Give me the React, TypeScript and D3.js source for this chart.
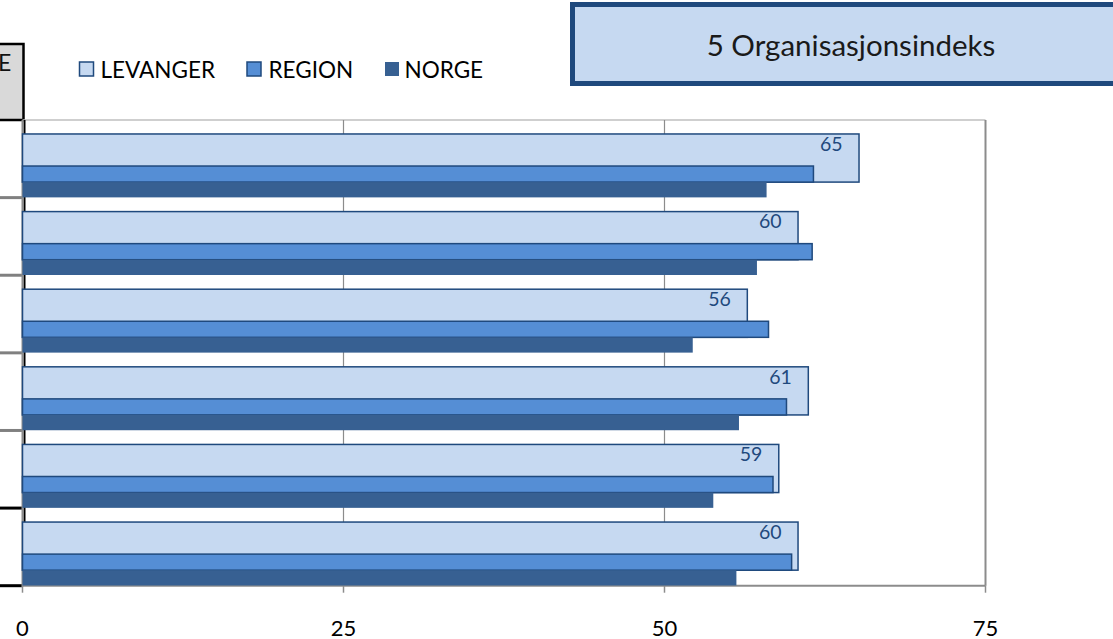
import React from "react";
import * as d3 from "d3";

const categories = ["K1", "K2", "K3", "K4", "K5", "K6"];
const levanger = [65.15, 60.4, 56.45, 61.2, 58.9, 60.4];
const region = [61.6, 61.5, 58.1, 59.5, 58.45, 59.9];
const norge = [57.95, 57.2, 52.2, 55.8, 53.8, 55.6];
const xTicks = [0, 25, 50, 75];
const seriesNames = ["LEVANGER", "REGION", "NORGE"];
const title = "5 Organisasjonsindeks";
const cornerText = "E";

const W = 1113;
const H = 639;
const FONT = "Lato, 'Open Sans', sans-serif";
const fills = ["#c6d9f1", "#558ed5", "#376092"];
const strokes = ["#1f497d", "#1f497d", "none"];
const DARK = "#1f497d";

export default function App() {
  const x = d3.scaleLinear().domain([0, 75]).range([22.5, 985.5]);
  const y = d3.scaleBand<string>().domain(categories).range([120, 585.7]).padding(0);
  const bw = y.bandwidth();
  const fmt = d3.format(".0f");
  const top = 120;
  const bottom = 585.7;
  const legendSq = [79.5, 247, 385];
  const legendTx = [100.5, 268.5, 404.5];
  const boundaries = categories.map((c) => (y(c) as number) + bw);

  return (
    <svg
      width={W}
      height={H}
      style={{ position: "absolute", left: 0, top: 0, background: "#fff" }}
      fontFamily={FONT}
    >
      {/* corner cell */}
      <rect x={-5} y={44} width={28.5} height={76} fill="#d9d9d9" stroke="#000" strokeWidth={2.5} />
      <text x={-2} y={70.5} fontSize={23} fill="#111">{cornerText}</text>

      {/* left table lines */}
      {boundaries.map((b, i) => (
        <line key={i} x1={0} x2={22} y1={b} y2={b} stroke={i >= 4 ? "#000" : "#808080"} strokeWidth={3} />
      ))}

      {/* title box */}
      <rect x={572.5} y={4.5} width={570} height={79} fill="#c6d9f1" stroke={DARK} strokeWidth={5} />
      <text x={851} y={55.5} textAnchor="middle" fontSize={29.5} fill="#1a1a1a">{title}</text>

      {/* legend */}
      {seriesNames.map((s, i) => (
        <g key={s}>
          <rect x={legendSq[i]} y={62} width={14} height={14} fill={fills[i]}
            stroke={strokes[i] === "none" ? "none" : DARK} strokeWidth={1.5} />
          <text x={legendTx[i]} y={77.5} fontSize={22.5} fill="#000">{s}</text>
        </g>
      ))}

      {/* plot frame & grid */}
      <line x1={22.5} x2={985.5} y1={top} y2={top} stroke="#bfbfbf" strokeWidth={1.5} />
      {xTicks.filter((t) => t > 0 && t < 75).map((t) => (
        <line key={t} x1={x(t)} x2={x(t)} y1={top} y2={bottom} stroke="#8c8c8c" strokeWidth={1.2} />
      ))}
      <line x1={x(75)} x2={x(75)} y1={top} y2={bottom} stroke="#8c8c8c" strokeWidth={2} />
      <line x1={24.5} x2={24.5} y1={top} y2={bottom} stroke="#000" strokeWidth={2} />
      <line x1={x(0)} x2={x(0)} y1={top} y2={bottom + 1} stroke="#8c8c8c" strokeWidth={2} />
      <line x1={x(0)} x2={x(75)} y1={bottom} y2={bottom} stroke="#8c8c8c" strokeWidth={2} />
      {xTicks.map((t) => (
        <g key={t}>
          <line x1={x(t)} x2={x(t)} y1={bottom} y2={bottom + 7} stroke="#8c8c8c" strokeWidth={1.5} />
          <text x={x(t)} y={635.5} textAnchor="middle" fontSize={22} fill="#000">{t}</text>
        </g>
      ))}

      {/* bars */}
      {categories.map((c, i) => {
        const y0 = y(c) as number;
        return (
          <g key={c}>
            <rect x={x(0)} y={y0 + bw * 0.18} width={x(levanger[i]) - x(0)} height={bw * 0.62}
              fill={fills[0]} stroke={DARK} strokeWidth={1.5} />
            <rect x={x(0)} y={y0 + bw * 0.593} width={x(region[i]) - x(0)} height={bw * 0.207}
              fill={fills[1]} stroke={DARK} strokeWidth={1.5} />
            <rect x={x(0)} y={y0 + bw * 0.8} width={x(norge[i]) - x(0)} height={bw * 0.197}
              fill={fills[2]} />
            <text x={x(levanger[i]) - 16.5} y={y0 + bw * 0.18 + 16.8} textAnchor="end" fontSize={19.5} fill={DARK}>
              {fmt(levanger[i])}
            </text>
          </g>
        );
      })}
    </svg>
  );
}
